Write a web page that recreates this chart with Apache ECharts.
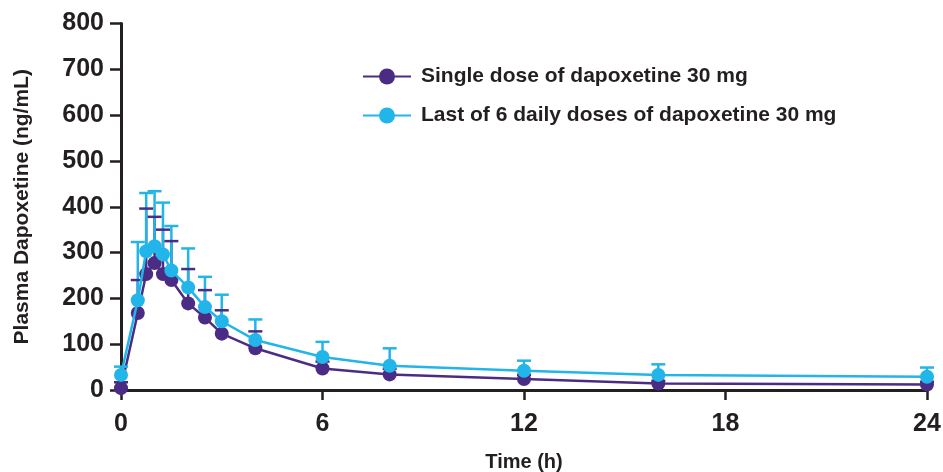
<!DOCTYPE html>
<html>
<head>
<meta charset="utf-8">
<script src="https://cdn.jsdelivr.net/npm/echarts@6/dist/echarts.min.js"></script>
<style>
html,body{margin:0;padding:0;background:#fff;}
#chart{width:943px;height:472px;}
</style>
</head>
<body>
<div id="chart"></div>
<script>
const times = [0, 0.5, 0.75, 1, 1.25, 1.5, 2, 2.5, 3, 4, 6, 8, 12, 16, 24];
const singleMean  = [4, 168, 253, 277, 253, 240, 189, 158, 123, 91, 47, 34, 24, 14, 12];
const singleUpper = [17, 240, 396, 378, 350, 325, 264, 218, 174, 128, 62, 46, 33, 20, 18];
const multiMean   = [33, 196, 303, 314, 296, 261, 224, 181, 150, 109, 72, 53, 42, 33, 29];
const multiUpper  = [51, 323, 430, 434, 409, 358, 309, 247, 208, 154, 105, 91, 64, 56, 49];
const xTicks = [0, 6, 12, 18, 24];
const yTicks = [0, 100, 200, 300, 400, 500, 600, 700, 800];
const seriesNames = ['Single dose of dapoxetine 30 mg', 'Last of 6 daily doses of dapoxetine 30 mg'];

const PURPLE = '#4b2c84';
const CYAN = '#22b5e9';
const AXIS = '#231f20';
const FONT = '"Liberation Sans", Arial, Helvetica, sans-serif';

function errData(mean, upper) {
  return times.map((t, i) => [t, mean[i], upper[i]]);
}
function errRender(color, stem, cap) {
  return function (params, api) {
    const x = api.value(0), m = api.value(1), u = api.value(2);
    const p0 = api.coord([x, m]);
    const p1 = api.coord([x, u]);
    const half = 7;
    const children = [];
    const style = { stroke: color, lineWidth: 2.5 };
    if (stem) children.push({ type: 'line', shape: { x1: p0[0], y1: p0[1], x2: p1[0], y2: p1[1] }, style });
    if (cap) children.push({ type: 'line', shape: { x1: p1[0] - half, y1: p1[1], x2: p1[0] + half, y2: p1[1] }, style });
    return { type: 'group', children };
  };
}

const chart = echarts.init(document.getElementById('chart'), null, { renderer: 'canvas' });
chart.setOption({
  animation: false,
  backgroundColor: '#ffffff',
  grid: { left: 121, right: 16, top: 23.5, bottom: 82, containLabel: false, outerBoundsMode: 'none' },
  legend: {
    data: seriesNames,
    orient: 'vertical',
    left: 357,
    top: 61,
    itemWidth: 48,
    itemHeight: 20,
    itemGap: 18,
    textStyle: { fontFamily: FONT, fontWeight: 'bold', fontSize: 21, color: AXIS, padding: [0, 0, 0, 5] }
  },
  xAxis: {
    type: 'value',
    min: 0, max: 24, interval: 6,
    name: 'Time (h)',
    nameLocation: 'middle',
    nameGap: 62,
    nameTextStyle: { fontFamily: FONT, fontWeight: 'bold', fontSize: 20, color: AXIS },
    axisLine: { show: true, lineStyle: { color: AXIS, width: 3 } },
    axisTick: { show: true, length: 10, lineStyle: { color: AXIS, width: 2.5 } },
    axisLabel: { fontFamily: FONT, fontWeight: 'bold', fontSize: 25, color: AXIS, margin: 22,
      formatter: v => xTicks.includes(v) ? String(v) : '' },
    splitLine: { show: false }
  },
  yAxis: {
    type: 'value',
    min: 0, max: 800, interval: 100,
    name: 'Plasma Dapoxetine (ng/mL)',
    nameLocation: 'middle',
    nameGap: 88,
    nameTextStyle: { fontFamily: FONT, fontWeight: 'bold', fontSize: 21, color: AXIS },
    axisLine: { show: true, lineStyle: { color: AXIS, width: 3 } },
    axisTick: { show: true, length: 11, lineStyle: { color: AXIS, width: 2.5 } },
    axisLabel: { fontFamily: FONT, fontWeight: 'bold', fontSize: 25, color: AXIS, margin: 17,
      formatter: v => yTicks.includes(v) ? String(v) : '' },
    splitLine: { show: false }
  },
  series: [
    {
      name: seriesNames[0], type: 'line', z: 2,
      data: times.map((t, i) => [t, singleMean[i]]),
      symbol: 'circle', symbolSize: 14,
      lineStyle: { color: PURPLE, width: 2.5 },
      itemStyle: { color: PURPLE },
      clip: false
    },
    {
      name: 'singleStem', type: 'custom', z: 3,
      data: errData(singleMean, singleUpper),
      encode: { x: 0, y: 1 },
      renderItem: errRender(PURPLE, true, false),
      clip: false
    },
    {
      name: 'multiErr', type: 'custom', z: 4,
      data: errData(multiMean, multiUpper),
      encode: { x: 0, y: 1 },
      renderItem: errRender(CYAN, true, true),
      clip: false
    },
    {
      name: 'singleCap', type: 'custom', z: 5,
      data: errData(singleMean, singleUpper),
      encode: { x: 0, y: 1 },
      renderItem: errRender(PURPLE, false, true),
      clip: false
    },
    {
      name: seriesNames[1], type: 'line', z: 6,
      data: times.map((t, i) => [t, multiMean[i]]),
      symbol: 'circle', symbolSize: 14,
      lineStyle: { color: CYAN, width: 2.5 },
      itemStyle: { color: CYAN },
      clip: false
    }
  ]
});
</script>
</body>
</html>
